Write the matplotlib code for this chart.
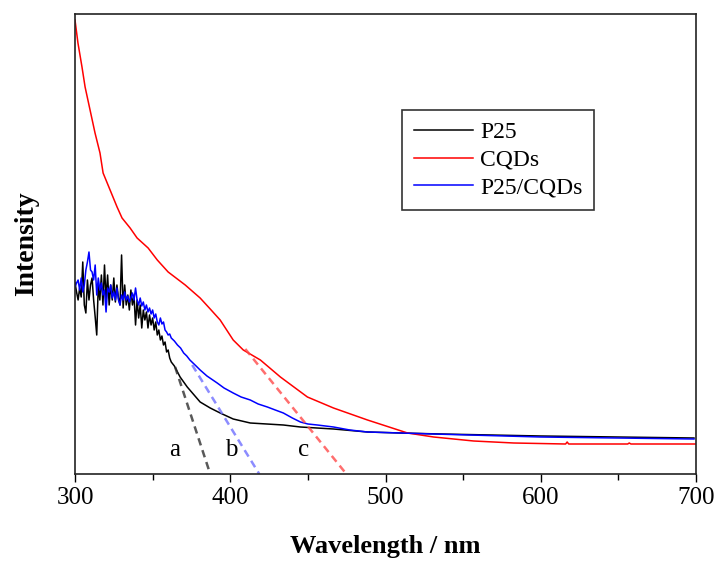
import matplotlib
matplotlib.use('Agg')
import matplotlib.pyplot as plt
from matplotlib.ticker import MultipleLocator

plt.rcParams['font.family'] = ['Liberation Serif', 'DejaVu Serif']

# Spectra (wavelength in nm, intensity in a.u.)
p25_wl = [300, 301, 302, 303, 304, 305, 306, 307, 308, 309,
          310, 311, 312, 313, 314, 315, 316, 317, 318, 319,
          320, 321, 322, 323, 324, 325, 326, 327, 328, 329,
          330, 331, 332, 333, 334, 335, 336, 337, 338, 339,
          340, 341, 342, 343, 344, 345, 346, 347, 348, 349,
          350, 351, 352, 353, 354, 355, 356, 357, 358, 359,
          360, 361, 362, 364, 367.7, 372.3, 380.6, 387.1, 393.5, 401.9,
          412.9, 434.2, 445.2, 466.5, 488.4, 509.7, 535.5, 600.0, 698.7]
p25_int = [191, 182, 174, 186, 177, 212, 169, 161, 194, 174,
           189, 196, 174, 157, 139, 189, 174, 199, 169, 209,
           174, 199, 169, 189, 174, 196, 172, 189, 176, 169,
           219, 166, 189, 169, 179, 164, 184, 169, 179, 149,
           174, 156, 169, 146, 164, 154, 162, 146, 159, 149,
           156, 144, 152, 139, 144, 134, 138, 129, 132, 122,
           124, 116, 112, 108, 97, 87, 72, 66, 61, 55,
           51, 49, 47, 45, 42, 41, 40, 38, 36]

cqd_wl = [300.0, 301.9, 304.5, 306.5, 309.7, 312.9, 316.1, 318.1, 322.6, 327.1,
          330.3, 335.5, 340.0, 347.1, 353.0, 360.0, 371.0, 380.6, 387.1, 393.5,
          401.9, 408.4, 419.4, 432.3, 449.7, 466.5, 488.4, 514.2, 531.0, 556.8,
          582.6, 616.0, 617.0, 618.0, 621.3, 656.0, 657.0, 658.1, 700.0]
cqd_int = [454, 431, 407, 387, 364, 341, 321, 301, 284, 267,
           256, 246, 236, 226, 214, 202, 189, 176, 165, 154,
           134, 124, 114, 97, 77, 66, 54, 41, 37, 33,
           31, 30, 32, 30, 30, 30, 31, 30, 30]

mix_wl = [300, 301, 302, 303, 304, 305, 306, 307, 308, 309,
          310, 311, 312, 313, 314, 315, 316, 317, 318, 319,
          320, 321, 322, 323, 324, 325, 326, 327, 328, 329,
          330, 331, 332, 333, 334, 335, 336, 337, 338, 339,
          340, 341, 342, 343, 344, 345, 346, 347, 348, 349,
          350, 351, 352, 353, 354, 355, 356, 357, 358, 359,
          360, 361, 362, 364, 366, 368, 370, 372, 374, 376,
          378, 380.6, 385, 391.6, 396, 401.9, 407, 412.9, 418, 423.9,
          429, 434.2, 440, 445.2, 450, 456.1, 466.5, 477, 488.4, 509.7,
          531, 600, 698.7]
mix_int = [187, 191, 194, 184, 196, 182, 189, 204, 212, 222,
           204, 202, 194, 209, 179, 196, 184, 191, 179, 184,
           162, 186, 182, 189, 176, 182, 174, 186, 174, 169,
           179, 174, 182, 174, 178, 172, 176, 181, 174, 186,
           174, 169, 176, 168, 172, 164, 169, 162, 166, 160,
           164, 156, 160, 152, 149, 156, 150, 152, 144, 142,
           139, 140, 136, 133, 129, 126, 121, 118, 114, 111,
           108, 104, 98, 91, 86, 81, 77, 74, 70, 67,
           64, 61, 56, 52, 50, 49, 47, 44, 42, 41,
           40, 37, 35]

# Tangent lines used for the absorption edges (start point, end point on baseline)
edge_wl = [[364.5, 387.1], [375.5, 418.7], [409.7, 474.8]]
edge_int = [[107, 0], [109, 0], [125, 0]]
edge_colors = ['#303030', '#6f6fff', '#ff4a4a']
edge_labels = ['a', 'b', 'c']
label_wl = [363.9, 400.6, 447.1]

fig = plt.figure(figsize=(7.17, 5.65), dpi=100)
ax = fig.add_axes([75 / 717, 1 - 474 / 565, 621 / 717, 460 / 565])

ax.plot(p25_wl, p25_int, color='black', lw=1.1, label='P25')
ax.plot(cqd_wl, cqd_int, color='#ff0000', lw=1.1, label='CQDs')
ax.plot(mix_wl, mix_int, color='#0000ff', lw=1.1, label='P25/CQDs')

for xs, ys, c in zip(edge_wl, edge_int, edge_colors):
    ax.plot(xs, ys, color=c, lw=1.8, ls=(0, (3, 2)), alpha=0.8)

for lab, x in zip(edge_labels, label_wl):
    ax.text(x, 24, lab, fontsize=18, ha='center', va='center')

ax.set_xlim(300, 700)
ax.set_ylim(0, 460)
ax.xaxis.set_major_locator(MultipleLocator(100))
ax.xaxis.set_minor_locator(MultipleLocator(50))
ax.tick_params(axis='x', which='major', direction='out', length=6, width=1,
               labelsize=18, pad=3)
ax.tick_params(axis='x', which='minor', direction='out', length=4, width=1)
ax.set_yticks([])
for s in ax.spines.values():
    s.set_linewidth(1.2)
    s.set_color('#222222')

ax.set_xlabel('Wavelength / nm', fontsize=19, fontweight='bold', labelpad=19)
ax.set_ylabel('Intensity', fontsize=20, fontweight='bold', labelpad=26)

leg = ax.legend(loc='upper left', bbox_to_anchor=(0.527, 0.791), fontsize=17,
                frameon=True, fancybox=False, shadow=False, handlelength=2.5,
                handletextpad=0.3, labelspacing=0.25, borderpad=0.5,
                borderaxespad=0)
leg.get_frame().set_edgecolor('black')
leg.get_frame().set_linewidth(1.2)

fig.savefig('out.png', dpi=100)
